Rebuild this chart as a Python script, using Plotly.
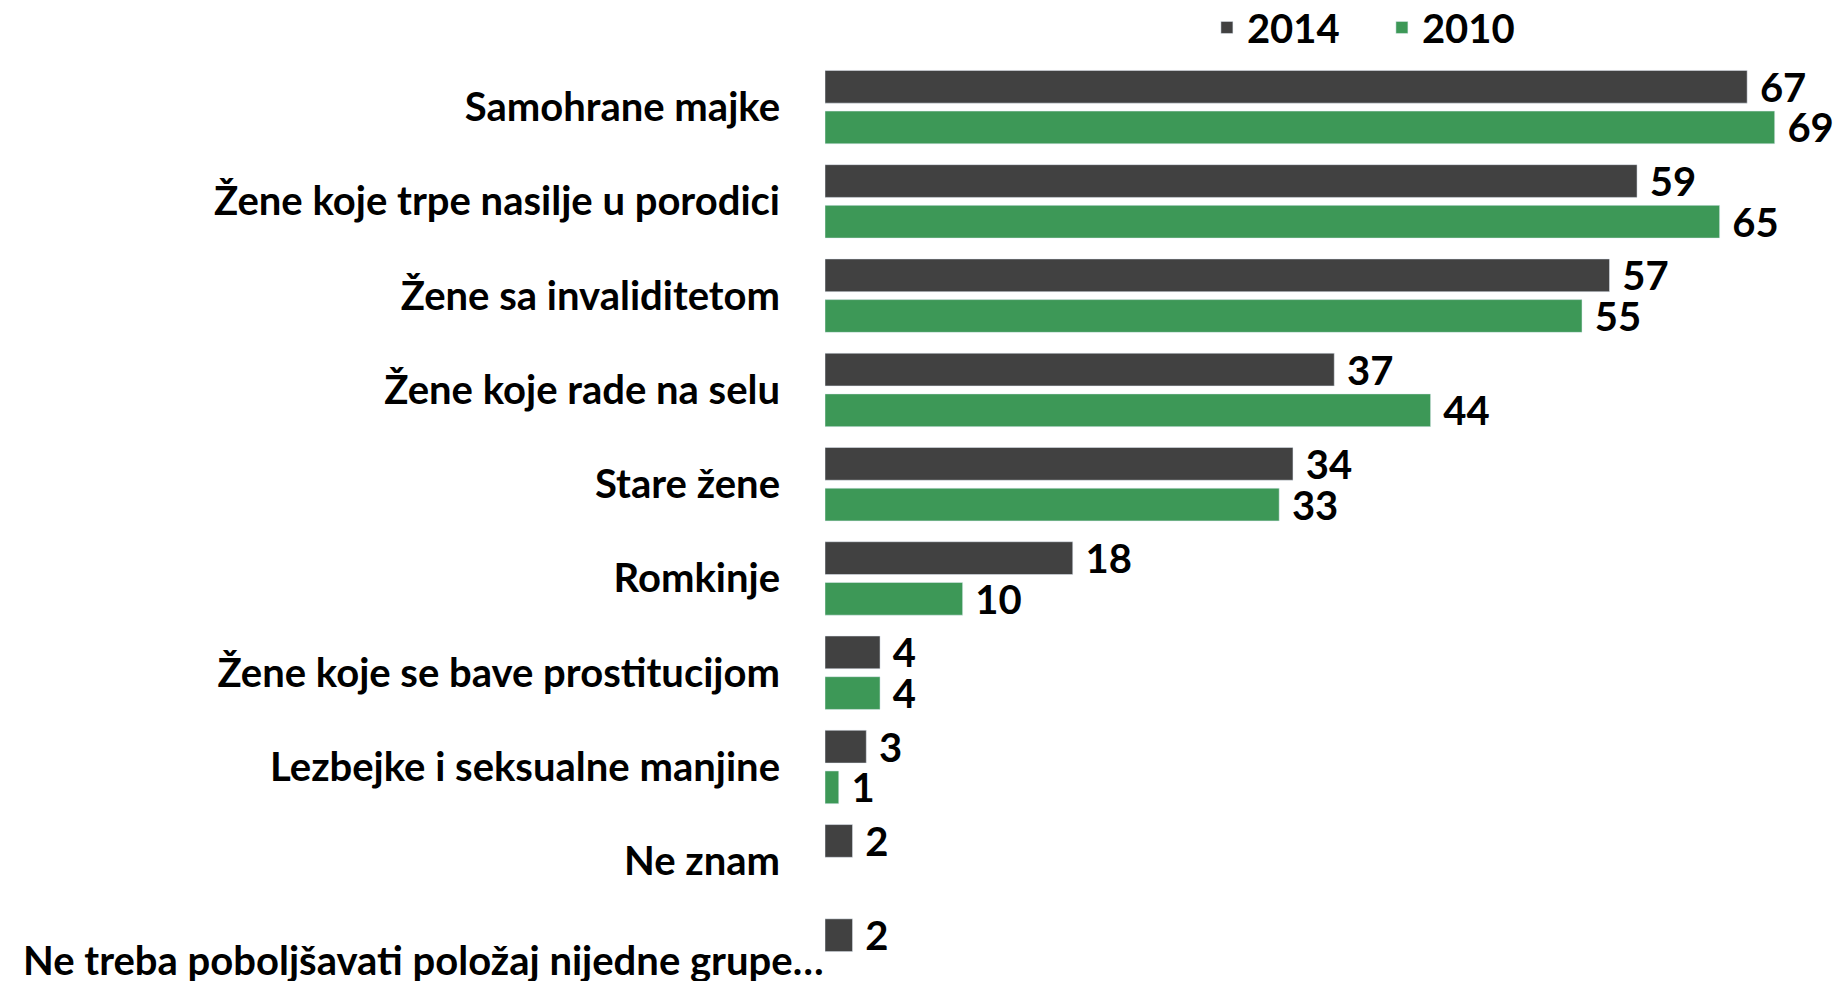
import plotly.graph_objects as go

categories = [
    "Samohrane majke",
    "Žene koje trpe nasilje u porodici",
    "Žene sa invaliditetom",
    "Žene koje rade na selu",
    "Stare žene",
    "Romkinje",
    "Žene koje se bave prostitucijom",
    "Lezbejke i seksualne manjine",
    "Ne znam",
    "Ne treba poboljšavati položaj nijedne grupe…",
]
values_2014 = [67, 59, 57, 37, 34, 18, 4, 3, 2, 2]
values_2010 = [69, 65, 55, 44, 33, 10, 4, 1, None, None]

FONT = "Lato, 'Liberation Sans', sans-serif"
SIZE = 40

# the last label sits further right than the others in the original, so it is an annotation
tick_text = categories[:-1] + [""]

fig = go.Figure()
fig.add_trace(go.Bar(
    y=categories, x=values_2014, name="2014", orientation="h",
    marker_color="#414141",
    text=values_2014, texttemplate="\u00a0%{x}", textposition="outside",
    cliponaxis=False,
))
fig.add_trace(go.Bar(
    y=categories, x=values_2010, name="2010", orientation="h",
    marker_color="#3d9857",
    text=values_2010, texttemplate="\u00a0%{x}", textposition="outside",
    cliponaxis=False,
))

fig.add_annotation(
    x=0, xref="paper", xshift=1, xanchor="right",
    y=categories[-1], yref="y", yshift=-4,
    text=categories[-1], showarrow=False,
    font=dict(family=FONT, size=SIZE, color="black", weight="bold"),
)

fig.update_layout(
    width=1837, height=981,
    margin=dict(l=825, r=10, t=53, b=0),
    plot_bgcolor="white", paper_bgcolor="white",
    barmode="group", bargap=0.137, bargroupgap=0.195,
    font=dict(family=FONT, size=SIZE, color="black", weight="bold"),
    showlegend=True,
    legend=dict(orientation="h", xref="container", yref="container",
                x=0.657, y=0.972, xanchor="left", yanchor="middle",
                font=dict(size=SIZE, weight="bold"), itemwidth=30,
                entrywidth=130, tracegroupgap=0),
    uniformtext=dict(minsize=SIZE, mode="show"),
)
fig.update_xaxes(range=[0, 72.8], visible=False)
fig.update_yaxes(type="category", categoryarray=categories, range=[9.27, -0.5],
                 tickvals=categories, ticktext=tick_text,
                 showline=False, ticks="", ticklabelstandoff=44,
                 tickfont=dict(size=SIZE, weight="bold"))

fig.write_html("out.html", config={"displayModeBar": False},
               post_script="document.body.style.margin='0';")
